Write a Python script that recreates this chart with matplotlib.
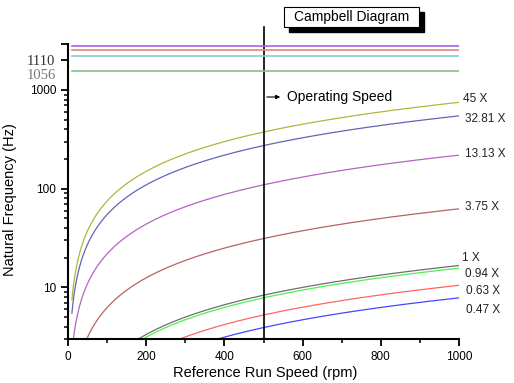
import numpy as np
import matplotlib
matplotlib.use('Agg')
import matplotlib.pyplot as plt
from matplotlib.ticker import FixedLocator, NullFormatter, FuncFormatter, LogLocator
from matplotlib.patches import Rectangle

plt.rcParams['font.family'] = ['Liberation Sans', 'DejaVu Sans']

# engine orders (X) and their colours
orders = [45, 32.81, 13.13, 3.75, 1, 0.94, 0.63, 0.47]
order_labels = ['45 X', '32.81 X', '13.13 X', '3.75 X', '1 X', '0.94 X', '0.63 X', '0.47 X']
order_colors = ['#b4b43c', '#6464b4', '#b464c0', '#b46464', '#6e6e6e', '#50f050', '#ff6464', '#4646ff']

# natural frequencies (Hz), top broken section
nat_freqs = [1164, 1147, 1123, 1068]
nat_colors = ['#a660ee', '#e08878', '#88cccc', '#88c088']

rpm_min, rpm_max = 10, 1000
operating_speed = 500

W, H = 514, 383
fig = plt.figure(figsize=(W / 100, H / 100), dpi=100)

def px_axes(left, top, right, bottom):
    return fig.add_axes([left / W, 1 - bottom / H, (right - left) / W, (bottom - top) / H])

# main (log) axes
ax = px_axes(68, 90, 459, 339)
rpm = np.linspace(rpm_min, rpm_max, 400)
for o, c in zip(orders, order_colors):
    ax.plot(rpm, o * rpm / 60.0, color=c, lw=0.9)

ax.set_yscale('log')
ax.set_xlim(0, 1000)
ax.set_ylim(3, 1000)
ax.yaxis.set_major_locator(FixedLocator([10, 100, 1000]))
ax.yaxis.set_major_formatter(FuncFormatter(lambda v, p: '%d' % v))
ax.yaxis.set_minor_locator(LogLocator(base=10, subs=np.arange(2, 10)))
ax.yaxis.set_minor_formatter(NullFormatter())
ax.xaxis.set_major_locator(FixedLocator([0, 200, 400, 600, 800, 1000]))
ax.xaxis.set_minor_locator(FixedLocator([100, 300, 500, 700, 900]))

for s in ['top', 'right']:
    ax.spines[s].set_visible(False)
for s in ['left', 'bottom']:
    ax.spines[s].set_linewidth(1.5)
ax.tick_params(which='major', direction='out', length=5, width=1.3, labelsize=8.5)
ax.tick_params(which='minor', direction='out', length=3, width=1.1)

ax.set_xlabel('Reference Run Speed (rpm)', fontsize=10.5, va='center')
ax.xaxis.set_label_coords((265 - 68) / 391, -(373 - 339) / 249)
ax.set_ylabel('Natural Frequency (Hz)', fontsize=10.5)
ax.yaxis.set_label_coords((17 - 68) / 391, (339 - 200) / 249)

# operating speed line, extends above the axes
ax.axvline(operating_speed, ymin=0, ymax=(339 - 27) / 249, color='black', lw=1.2, clip_on=False)

# top section (natural frequencies, linear)
ax2 = px_axes(68, 44, 459, 90)
ax2.patch.set_visible(False)
for f, c in zip(nat_freqs, nat_colors):
    ax2.plot([rpm_min, rpm_max], [f, f], color=c, lw=1.2)
ax2.set_xlim(0, 1000)
ax2.set_ylim(994, 1171)
for s in ['top', 'right', 'bottom']:
    ax2.spines[s].set_visible(False)
ax2.spines['left'].set_linewidth(1.5)
ax2.set_xticks([])
ax2.set_yticks([1056, 1110, 1171])
ax2.set_yticklabels(['1056', '1110', ''], family=['Liberation Serif'], fontsize=10.5)
ax2.tick_params(axis='y', direction='out', length=5, width=1.3, pad=4)
yt = ax2.yaxis.get_major_ticks()
yt[0].tick1line.set_visible(False)
yt[0].label1.set_color('#777777')
yt[1].label1.set_color('#333333')

# order labels on the right
label_pos = [(463, 99), (465, 119), (465, 154), (465, 207), (462, 258), (465, 274), (466, 291), (466, 310)]
for t, (x, y) in zip(order_labels, label_pos):
    fig.text(x / W, 1 - y / H, t, fontsize=8.5, va='center', ha='left', color='#222222')

# operating speed annotation
fig.text(287 / W, 1 - 97 / H, 'Operating Speed', fontsize=10, va='center', ha='left')
ax.annotate('', xy=(283 / W, 1 - 97 / H), xytext=(264 / W, 1 - 97 / H),
            xycoords='figure fraction', textcoords='figure fraction',
            arrowprops=dict(arrowstyle='-|>', color='black', lw=0.8, mutation_scale=6))

# title box with shadow
fig.patches.append(Rectangle((289 / W, 1 - 32 / H), 135 / W, 20 / H, transform=fig.transFigure,
                             facecolor='black', edgecolor='black'))
fig.patches.append(Rectangle((284 / W, 1 - 27 / H), 135 / W, 20 / H, transform=fig.transFigure,
                             facecolor='white', edgecolor='black', lw=0.8))
fig.text(351.5 / W, 1 - 17 / H, 'Campbell Diagram', fontsize=10, ha='center', va='center')

fig.savefig('out.png', dpi=100)
